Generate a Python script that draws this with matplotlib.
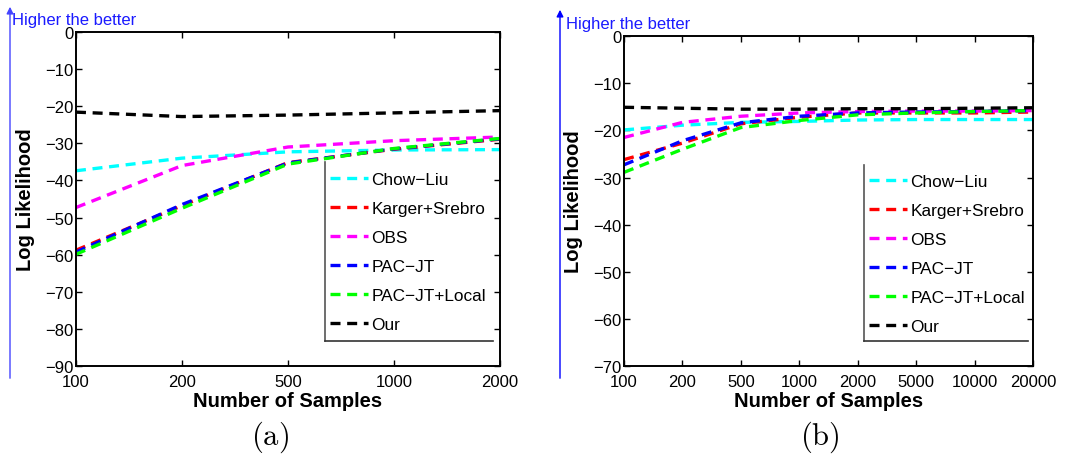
import matplotlib
matplotlib.use("Agg")
import matplotlib.pyplot as plt
from matplotlib.lines import Line2D

plt.rcParams['font.family'] = ['Liberation Sans', 'DejaVu Sans']
plt.rcParams['mathtext.fontset'] = 'cm'

# ---- data ----
methods = ['Chow\u2212Liu', 'Karger+Srebro', 'OBS', 'PAC\u2212JT', 'PAC\u2212JT+Local', 'Our']
colors = ['#00ffff', '#ff0000', '#ff00ff', '#0000ff', '#00ff00', '#000000']

samples_a = ['100', '200', '500', '1000', '2000']
chow_a = [-37.4, -34.0, -32.3, -31.8, -31.7]
karger_a = [-58.8, -46.8, -35.2, -31.6, -28.9]
obs_a = [-47.3, -36.0, -31.0, -29.3, -28.3]
pacjt_a = [-59.3, -46.5, -35.3, -31.5, -28.8]
pacloc_a = [-59.9, -47.5, -35.6, -31.4, -28.7]
our_a = [-21.6, -22.8, -22.4, -21.8, -21.2]

samples_b = ['100', '200', '500', '1000', '2000', '5000', '10000', '20000']
chow_b = [-19.9, -18.9, -18.3, -18.1, -17.8, -17.7, -17.7, -17.7]
karger_b = [-26.2, -22.7, -18.6, -17.2, -16.3, -16.3, -16.3, -16.1]
obs_b = [-21.5, -18.3, -17.0, -16.3, -16.0, -15.9, -15.9, -15.8]
pacjt_b = [-27.3, -22.2, -18.4, -17.0, -16.3, -16.1, -16.0, -15.8]
pacloc_b = [-28.9, -24.0, -19.4, -17.9, -16.7, -16.3, -16.0, -15.8]
our_b = [-15.1, -15.3, -15.5, -15.5, -15.4, -15.4, -15.3, -15.2]

ylim_a = (-90, 0)
ylim_b = (-70, 0)
yticks_a = list(range(-90, 1, 10))
yticks_b = list(range(-70, 1, 10))

fig = plt.figure(figsize=(10.76, 4.64), dpi=100)

def panel(rect, cats, series, ylim, yticks, box_left, box_top, leg_top, leg_right, leg_bottom, ylab_x):
    ax = fig.add_axes(rect)
    x = list(range(len(cats)))
    for name, vals, c in zip(methods, series, colors):
        ax.plot(x, vals, color=c, lw=2.4, linestyle=(0, (3, 2)), label=name)
    ax.set_xlim(0, len(cats) - 1)
    ax.set_ylim(*ylim)
    ax.set_xticks(x)
    ax.set_xticklabels(cats)
    ax.set_yticks(yticks)
    ax.set_yticklabels([str(t).replace('-', '\u2212') for t in yticks])
    ax.tick_params(direction='in', top=True, right=True, labelsize=12, length=4, width=1, pad=2)
    ax.tick_params(axis='x', pad=6)
    for s in ax.spines.values():
        s.set_linewidth(1.4)
    ax.set_xlabel('Number of Samples', fontsize=14.5, fontweight='bold', labelpad=1)
    ax.set_ylabel('Log Likelihood', fontsize=14.5, fontweight='bold')
    ax.yaxis.set_label_coords(ylab_x, 0.5)
    ax.legend(loc='upper left', bbox_to_anchor=(box_left, leg_top), frameon=False,
              fontsize=12.4, handlelength=2.2, handletextpad=0.2,
              labelspacing=0.81, borderaxespad=0, borderpad=0.3)
    ax.add_line(Line2D([box_left, box_left], [leg_bottom, box_top],
                       transform=ax.transAxes, color='#555555', lw=1.2))
    ax.add_line(Line2D([box_left, leg_right], [leg_bottom, leg_bottom],
                       transform=ax.transAxes, color='#333333', lw=1.2))
    return ax

ax1 = panel([0.0706, 0.209, 0.394, 0.720], samples_a,
            [chow_a, karger_a, obs_a, pacjt_a, pacloc_a, our_a],
            ylim_a, yticks_a, 0.587, 0.611, 0.597, 0.983, 0.075, -0.097)
ax2 = panel([0.580, 0.209, 0.380, 0.711], samples_b,
            [chow_b, karger_b, obs_b, pacjt_b, pacloc_b, our_b],
            ylim_b, yticks_b, 0.587, 0.61, 0.597, 0.988, 0.077, -0.100)

# "Higher the better" arrows
for xa, ytop, ybot, tx, ty, col in [(10, 5, 382, 12, 20, '#4444ff'), (560, 8, 382, 566, 25, '#0000ff')]:
    fig.add_artist(matplotlib.patches.FancyArrowPatch(
        (xa / 1076, 1 - ybot / 464), (xa / 1076, 1 - ytop / 464),
        transform=fig.transFigure, arrowstyle='-|>', mutation_scale=10,
        color=col, lw=1.0))
    fig.text(tx / 1076, 1 - ty / 464, 'Higher the better', color='#1a1aff',
             fontsize=12, ha='left', va='center')

fig.text(270 / 1076, 1 - 437 / 464, r'$\mathrm{(a)}$', fontsize=22, ha='center', va='center')
fig.text(820 / 1076, 1 - 437 / 464, r'$\mathrm{(b)}$', fontsize=22, ha='center', va='center')

fig.savefig('out.png', dpi=100)
